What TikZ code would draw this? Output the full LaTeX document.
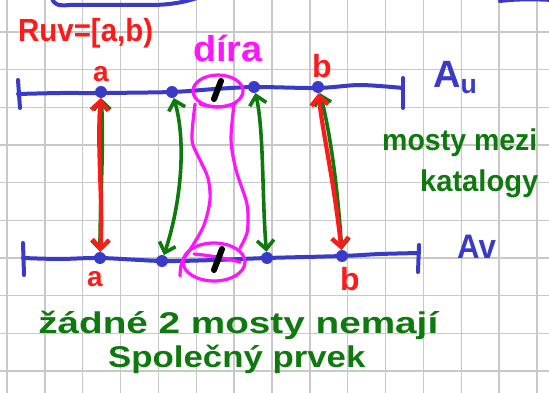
\documentclass[tikz,border=0pt]{standalone}
\usepackage{fontspec}
\setmainfont{Liberation Sans}
\usetikzlibrary{arrows.meta}
\definecolor{pblue}{HTML}{3A3AC8}
\definecolor{pred}{HTML}{FF1A1A}
\definecolor{pgreen}{HTML}{0E7A0E}
\definecolor{pmag}{HTML}{FF14FF}
\definecolor{gridc}{HTML}{C8C8C8}
\begin{document}
\begin{tikzpicture}[x=1pt,y=-1pt,line cap=round,line join=round,
  gridline/.style={draw=gridc,line width=1.4pt},
  bluepen/.style={draw=pblue,line width=4pt},
  redpen/.style={draw=pred,line width=4.2pt},
  greenpen/.style={draw=pgreen,line width=3.6pt},
  magpen/.style={draw=pmag,line width=3.2pt},
  barbs/.style={{Straight Barb[length=9pt,width=17pt]}-{Straight Barb[length=9pt,width=17pt]}},
  dot/.style={circle,fill=pblue,minimum size=12pt,inner sep=0pt},
  txt/.style={inner sep=0pt,anchor=base west}]
\fill[white] (0,0) rectangle (549,393);
\useasboundingbox (0,0) rectangle (549,393);
% grid
\foreach \i in {0,...,14} \draw[gridline] ({7+37.86*\i},0) -- ({7+37.86*\i},393);
\foreach \j in {0,...,9} \draw[gridline] (0,{32+37.67*\j}) -- (549,{32+37.67*\j});
% fragments at the top edge
\draw[bluepen] (52,-2) .. controls (54,5) and (58,6) .. (70,5) -- (150,5) .. controls (170,5) and (185,2) .. (197,-2);
\draw[bluepen] (500,1) .. controls (515,-1) and (535,-1) .. (552,0);
% top line A_u
\draw[bluepen] plot[smooth] coordinates {(18,94) (60,93) (100,93) (172,92) (215,89) (255,87) (318,88) (360,85) (403,88)};
\draw[bluepen] (18,80) -- (20,108);
\draw[bluepen] (403,78) -- (403,108);
% bottom line A_v
\draw[bluepen] plot[smooth] coordinates {(23,258) (60,259) (101,258) (162,261) (215,260) (267,258) (342,256) (380,254) (419,253)};
\draw[bluepen] (23,243) -- (24,275);
\draw[bluepen] (419,245) -- (418,272);
% dots
\node[dot] (ua) at (101,92) {};
\node[dot] (u2) at (172,92) {};
\node[dot] (u3) at (254,87) {};
\node[dot] (ub) at (318,87) {};
\node[dot] (va) at (100,258) {};
\node[dot] (v2) at (162,261) {};
\node[dot] (v3) at (267,258) {};
\node[dot] (vb) at (342,256) {};
% magenta hole (dira)
\draw[magpen] (218,91) ellipse[x radius=25,y radius=16];
\draw[magpen] (200,104) .. controls (210,108) and (225,108) .. (236,103);
\draw[magpen] plot[smooth] coordinates {(195,104) (192,140) (200,160) (208,178) (210,200) (204,225) (193,245) (182,262) (180,276)};
\draw[magpen] plot[smooth] coordinates {(234,104) (231,140) (236,170) (246,200) (248,215) (247,233) (240,248)};
\draw[magpen] (214,262) ellipse[x radius=31,y radius=19];
\draw[magpen] (194,254) .. controls (205,255) and (220,257) .. (240,262);
% black marks
\draw[black,line width=6pt] (221,81) -- (214,99);
\draw[black,line width=6pt] (222,249) -- (214,270);
% green bridges
\draw[greenpen,barbs] (ua) .. controls (104,150) and (100,200) .. (va);
\draw[greenpen,barbs] (u2) .. controls (186,140) and (182,200) .. (v2);
\draw[greenpen,barbs] (u3) .. controls (264,130) and (262,200) .. (v3);
\draw[greenpen,barbs] (ub) .. controls (330,130) and (338,190) .. (vb);
% red bridges
\draw[redpen,barbs] (ua) .. controls (97,150) and (103,200) .. (va);
\draw[redpen,barbs] (ub) .. controls (322,130) and (334,180) .. (vb);
% labels
\node[txt,text=pred,font=\bfseries\fontsize{32}{38}\selectfont,xscale=0.92] (rlab) at (18,42) {Ruv=[a,b)};
\node[txt,text=pmag,font=\bfseries\fontsize{36}{42}\selectfont,xscale=1.05] (dira) at (193,62) {díra};
\node[inner sep=0pt,anchor=base,text=pred,font=\bfseries\fontsize{28}{32}\selectfont] (la1) at (101,82) {a};
\node[inner sep=0pt,anchor=base,text=pred,font=\bfseries\fontsize{32}{36}\selectfont] (lb1) at (322,78) {b};
\node[inner sep=0pt,anchor=base,text=pred,font=\bfseries\fontsize{28}{32}\selectfont] (la2) at (95,286) {a};
\node[inner sep=0pt,anchor=base,text=pred,font=\bfseries\fontsize{32}{36}\selectfont] (lb2) at (350,290) {b};
\node[txt,text=pblue,font=\bfseries\fontsize{38}{42}\selectfont] (au) at (433,88) {A\textsubscript{u}};
\node[txt,text=pblue,font=\bfseries\fontsize{34}{40}\selectfont,xscale=0.92] (av) at (457,258) {Av};
\node[txt,text=pgreen,font=\bfseries\fontsize{30}{36}\selectfont,xscale=0.95] (most1) at (382,150) {mosty mezi};
\node[txt,text=pgreen,font=\bfseries\fontsize{30}{36}\selectfont,xscale=0.97] (kat) at (420,192) {katalogy};
\node[txt,text=pgreen,font=\bfseries\fontsize{30}{36}\selectfont,xscale=1.29] (zadne) at (38,333) {žádné 2 mosty nemají};
\node[txt,text=pgreen,font=\bfseries\fontsize{30}{36}\selectfont,xscale=1.16] (spol) at (108,367) {Společný prvek};
\end{tikzpicture}
\end{document}
